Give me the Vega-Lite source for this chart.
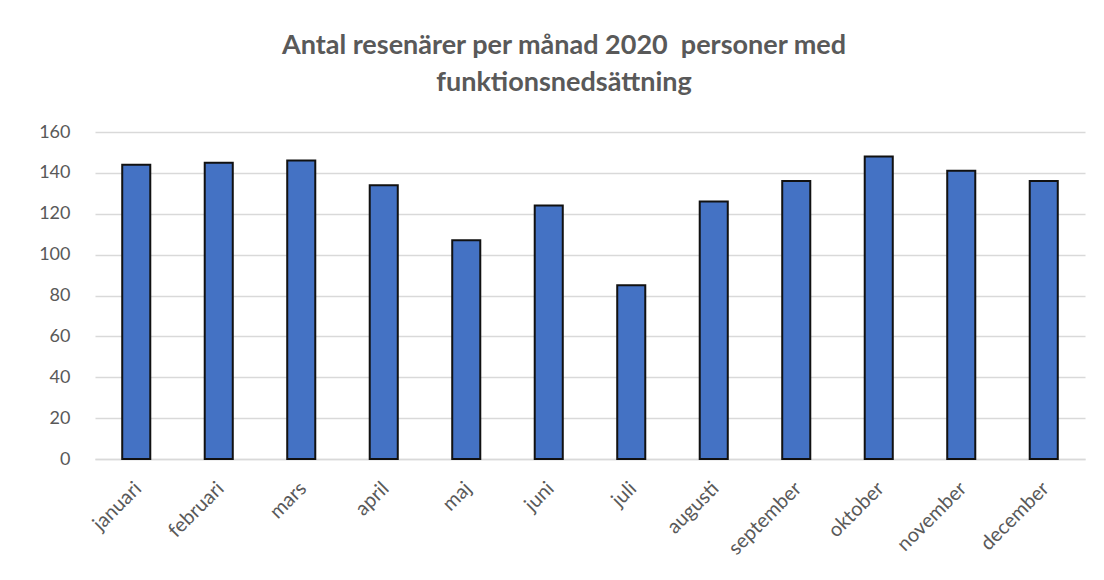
{
  "$schema": "https://vega.github.io/schema/vega-lite/v6.json",
  "autosize": {"type": "none"},
  "width": 990,
  "height": 327,
  "padding": {"left": 95, "top": 132, "right": 19, "bottom": 121},
  "background": "white",
  "title": {
    "text": ["Antal resenärer per månad 2020\u00a0 personer med", "funktionsnedsättning"],
    "font": "Lato",
    "fontSize": 27,
    "fontWeight": "bold",
    "color": "#595959",
    "lineHeight": 37,
    "anchor": "middle",
    "dx": -26,
    "offset": 26
  },
  "data": {
    "values": [
      {"month": "januari", "value": 144},
      {"month": "februari", "value": 145},
      {"month": "mars", "value": 146},
      {"month": "april", "value": 134},
      {"month": "maj", "value": 107},
      {"month": "juni", "value": 124},
      {"month": "juli", "value": 85},
      {"month": "augusti", "value": 126},
      {"month": "september", "value": 136},
      {"month": "oktober", "value": 148},
      {"month": "november", "value": 141},
      {"month": "december", "value": 136}
    ]
  },
  "mark": {"type": "bar", "color": "#4472c4", "stroke": "#111111", "strokeWidth": 2},
  "encoding": {
    "x": {
      "field": "month",
      "type": "nominal",
      "sort": null,
      "title": null,
      "scale": {"paddingInner": 0.66, "paddingOuter": 0.33},
      "axis": {
        "labelAngle": -45,
        "labelAlign": "right",
        "labelBaseline": "top",
        "labelFont": "Lato",
        "labelFontSize": 20,
        "labelColor": "#595959",
        "labelPadding": 19,
        "labelOffset": -5,
        "labelOverlap": false,
        "ticks": false,
        "domainColor": "#d9d9d9",
        "domainWidth": 1.5,
        "grid": false
      }
    },
    "y": {
      "field": "value",
      "type": "quantitative",
      "title": null,
      "scale": {"domain": [0, 160], "nice": false},
      "axis": {
        "values": [0, 20, 40, 60, 80, 100, 120, 140, 160],
        "labelFont": "Lato",
        "labelFontSize": 18,
        "labelColor": "#595959",
        "labelPadding": 25,
        "ticks": false,
        "domain": false,
        "gridColor": "#d9d9d9",
        "gridWidth": 1.5
      }
    }
  },
  "config": {"view": {"stroke": null}}
}
